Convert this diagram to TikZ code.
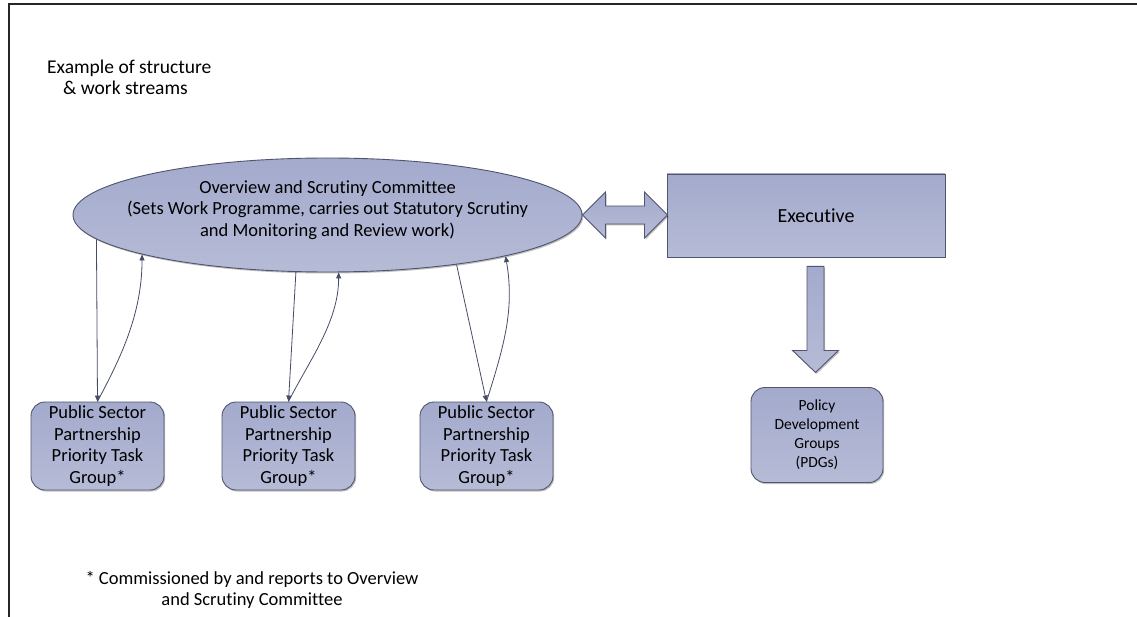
\documentclass[tikz,border=0pt]{standalone}
\usepackage{fontspec}
\setmainfont{Carlito}[Ligatures=NoCommon]
\usetikzlibrary{shapes.geometric,shadows,arrows.meta,calc}
\definecolor{fillA}{HTML}{A3AACC}
\definecolor{fillB}{HTML}{B6BBD6}
\definecolor{edgec}{HTML}{50556F}
\definecolor{connc}{HTML}{464B66}
\begin{document}
\begin{tikzpicture}[x=1pt,y=-1pt,
  shapefill/.style={top color=fillA,bottom color=fillB,draw=edgec,line width=0.9pt},
  myshadow/.style={drop shadow={shadow xshift=1.2pt,shadow yshift=-1.5pt,fill=black,opacity=0.25}},
  taskbox/.style={shapefill,myshadow,rounded corners=14pt,minimum width=133pt,minimum height=88pt,align=center,inner sep=0pt,font=\fontsize{18.5}{21.7}\selectfont},
  connarrow/.style={draw=connc,line width=0.8pt,-{Triangle[length=6pt,width=5pt]}},
  plain/.style={inner sep=0pt,align=center}
]
\useasboundingbox (0,0) rectangle (1137,617);
\fill[white] (0,0) rectangle (1137,617);
% frame
\draw[line width=2pt,black!85] (1137,4) -- (9,4) -- (9,617);

% title
\node[plain,align=left,anchor=west,font=\fontsize{19.5}{21}\selectfont] (title) at (47,77)
  {Example of structure\\\hspace*{16pt}\& work streams};

% committee ellipse
\node[ellipse,shapefill,myshadow,minimum width=509pt,minimum height=114pt,inner sep=0pt] (ov) at (327.5,215) {};
\node[plain,font=\fontsize{18.5}{21.7}\selectfont] (ovt) at (327.5,210)
  {Overview and Scrutiny Committee\\(Sets Work Programme, carries out Statutory Scrutiny\\and Monitoring and Review work)};

% executive
\node[rectangle,shapefill,myshadow,minimum width=278pt,minimum height=83pt,inner sep=0pt] (exec) at (806,215.5) {};
\node[plain,font=\fontsize{20}{24}\selectfont] (exect) at (816,216) {Executive};

% double block arrow
\draw[shapefill,myshadow] (ov.east) -- ++(23,-23) -- ++(0,14) -- ++(39,0) -- ++(0,-14) -- ++(23,23)
  -- ++(-23,23) -- ++(0,-14) -- ++(-39,0) -- ++(0,14) -- cycle;

% down block arrow
\draw[shapefill,myshadow] ($(exect|-exec.south)+(-9,9)$) -- ++(17,0) -- ++(0,84) -- ++(14.5,0) -- ++(-23,22)
  -- ++(-23,-22) -- ++(14.5,0) -- cycle;

% PDG
\node[taskbox,font=\fontsize{15.5}{19}\selectfont,minimum width=132pt,minimum height=95pt] (pdg) at (817,435)
  {Policy\\Development\\Groups\\(PDGs)};

% task groups
\node[taskbox] (t1) at (97.5,446) {Public Sector\\Partnership\\Priority Task\\Group*};
\node[taskbox] (t2) at (288.5,446) {Public Sector\\Partnership\\Priority Task\\Group*};
\node[taskbox] (t3) at (486.5,446) {Public Sector\\Partnership\\Priority Task\\Group*};

% connectors
\draw[connarrow] (ov.186.8) -- (t1.north);
\draw[connarrow] (t1.north) .. controls +(18,-35) and +(0,65) .. (ov.192.5);
\draw[connarrow] (ov.241) -- (t2.north);
\draw[connarrow] (t2.north) .. controls +(20,-40) and +(0,50) .. (ov.281.2);
\draw[connarrow] (ov.339.7) -- (t3.north);
\draw[connarrow] (t3.north) .. controls +(18,-57) and +(9,53) .. (ov.347.6);

% footnote
\node[plain,font=\fontsize{18.5}{21}\selectfont] (note) at (252,590)
  {* Commissioned by and reports to Overview\\and Scrutiny Committee};
\end{tikzpicture}
\end{document}
